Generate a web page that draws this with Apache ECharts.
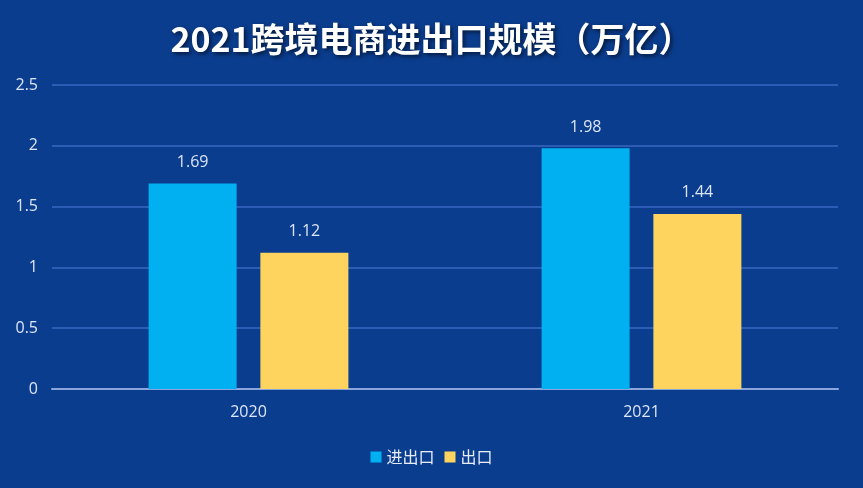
<!DOCTYPE html>
<html><head><meta charset="utf-8">
<script src="https://cdn.jsdelivr.net/npm/echarts@6/dist/echarts.min.js"></script>
<style>html,body{margin:0;padding:0;background:#0b3d8e;}#c{width:863px;height:488px;}</style>
</head><body><div id="c"></div>
<script>
var categories = ['2020', '2021'];
var importExport = [1.69, 1.98];
var exportVals = [1.12, 1.44];
var yTicks = [0, 0.5, 1, 1.5, 2, 2.5];

var chart = echarts.init(document.getElementById('c'));
chart.setOption({
  backgroundColor: '#0b3d8e',
  title: {
    text: '2021跨境电商进出口规模（万亿）',
    left: 'center', top: 17,
    textStyle: {
      color: '#ffffff', fontSize: 34, fontWeight: 'bold',
      fontFamily: 'Noto Sans CJK SC',
      textShadowColor: 'rgba(0,0,0,0.6)', textShadowBlur: 4, textShadowOffsetX: 2, textShadowOffsetY: 2
    }
  },
  legend: {
    bottom: 18, left: 'center',
    itemWidth: 11, itemHeight: 11, itemGap: 10,
    icon: 'rect',
    textStyle: { color: '#e6ecf8', fontSize: 16, fontFamily: 'Noto Sans CJK SC' },
    data: ['进出口', '出口']
  },
  grid: { left: 52, right: 25, top: 85, bottom: 99 },
  xAxis: {
    type: 'category', data: categories,
    axisLine: { lineStyle: { color: '#8aa6dc', width: 2 } },
    axisTick: { show: false },
    axisLabel: { color: '#dce6f8', fontSize: 16, margin: 15, fontFamily: 'Open Sans' }
  },
  yAxis: {
    type: 'value', min: 0, max: 2.5, interval: 0.5,
    axisLine: { show: false }, axisTick: { show: false },
    axisLabel: { color: '#dce6f8', fontSize: 16, margin: 14, fontFamily: 'Open Sans' },
    splitLine: { lineStyle: { color: '#2c5cb4', width: 2 } }
  },
  series: [
    {
      name: '进出口', type: 'bar', data: importExport, barWidth: 88, barGap: '27%',
      itemStyle: { color: '#00b0f0' },
      label: { show: true, position: 'top', distance: 13, color: '#dce6f8', fontSize: 16, fontFamily: 'Open Sans' }
    },
    {
      name: '出口', type: 'bar', data: exportVals, barWidth: 88,
      itemStyle: { color: '#ffd45e' },
      label: { show: true, position: 'top', distance: 13, color: '#dce6f8', fontSize: 16, fontFamily: 'Open Sans' }
    }
  ]
});
</script></body></html>
